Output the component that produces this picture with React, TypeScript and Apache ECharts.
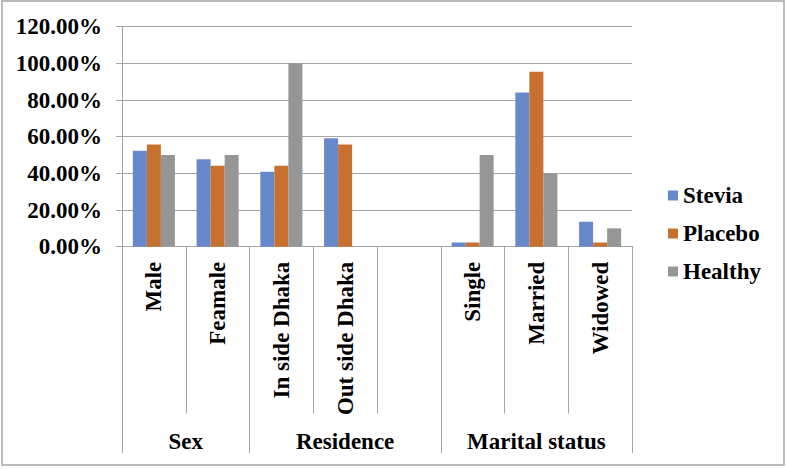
import React, { useEffect, useRef } from "react";
import * as echarts from "echarts";

const categories = ["Male", "Feamale", "In side Dhaka", "Out side Dhaka", "", "Single", "Married", "Widowed"];
const groupSlots = ["", "", "Sex", "", "", "", "", "Residence", "", "", "", "", "", "Marital status", "", "", ""];
const groupBoundaries = [0, 4, 10, 16];
const stevia = [52.3, 47.7, 40.9, 59.1, null, 2.3, 84.1, 13.6];
const placebo = [55.8, 44.2, 44.2, 55.8, null, 2.3, 95.4, 2.3];
const healthy = [50, 50, 100, 0, null, 50, 40, 10];
const seriesNames = ["Stevia", "Placebo", "Healthy"];
const colors = ["#6788CB", "#C8702F", "#969696"];

const FONT = "'Liberation Serif', 'Times New Roman', serif";
const FS = 23;
const LINE = "#a6a6a6";

export default function App() {
  const ref = useRef<HTMLDivElement>(null);
  useEffect(() => {
    const chart = echarts.init(ref.current!, null, { renderer: "svg" });
    const data = [stevia, placebo, healthy];
    const txt = { fontFamily: FONT, fontSize: FS, fontWeight: "bold", color: "#000" };
    chart.setOption({
      animation: false,
      color: colors,
      graphic: [
        {
          type: "rect",
          shape: { x: 2, y: 1, width: 782, height: 464 },
          style: { fill: "none", stroke: LINE, lineWidth: 1.5 },
          silent: true,
        },
      ],
      legend: {
        orient: "vertical",
        left: 668,
        top: 184,
        padding: 0,
        itemWidth: 10,
        itemHeight: 10,
        itemGap: 15,
        icon: "rect",
        data: seriesNames,
        textStyle: txt,
      },
      grid: [
        { left: 122, right: 155, top: 26.7, bottom: 222.3 },
        { left: 122, right: 155, top: 246.7, bottom: 16 },
      ],
      xAxis: [
        {
          type: "category",
          gridIndex: 0,
          data: categories,
          axisLine: { show: true, lineStyle: { color: LINE, width: 1 } },
          axisTick: { show: true, length: 167, lineStyle: { color: LINE } },
          axisLabel: { rotate: 90, margin: 15, interval: 0, ...txt },
          splitLine: { show: false },
        },
        {
          type: "category",
          gridIndex: 1,
          position: "bottom",
          boundaryGap: false,
          data: groupSlots,
          axisLine: { show: false },
          axisTick: {
            show: true,
            inside: true,
            length: 207,
            interval: (i: number) => groupBoundaries.includes(i),
            lineStyle: { color: LINE },
          },
          axisLabel: { inside: true, margin: 0, interval: 0, ...txt },
          splitLine: { show: false },
        },
      ],
      yAxis: [
        {
          type: "value",
          gridIndex: 0,
          min: 0,
          max: 120,
          interval: 20,
          axisLine: { show: true, lineStyle: { color: LINE } },
          axisTick: { show: true, length: 6, lineStyle: { color: LINE } },
          splitLine: { lineStyle: { color: LINE } },
          axisLabel: {
            margin: 20,
            formatter: (v: number) => v.toFixed(2) + "%",
            ...txt,
          },
        },
        { type: "value", gridIndex: 1, show: false },
      ],
      series: seriesNames.map((name, i) => ({
        name,
        type: "bar",
        xAxisIndex: 0,
        yAxisIndex: 0,
        data: data[i],
        barGap: "0%",
        barCategoryGap: "34%",
        itemStyle: { color: colors[i] },
      })),
    });
    return () => chart.dispose();
  }, []);
  return (
    <div
      ref={ref}
      style={{ position: "fixed", left: 0, top: 0, width: 787, height: 469, background: "#fff" }}
    />
  );
}
